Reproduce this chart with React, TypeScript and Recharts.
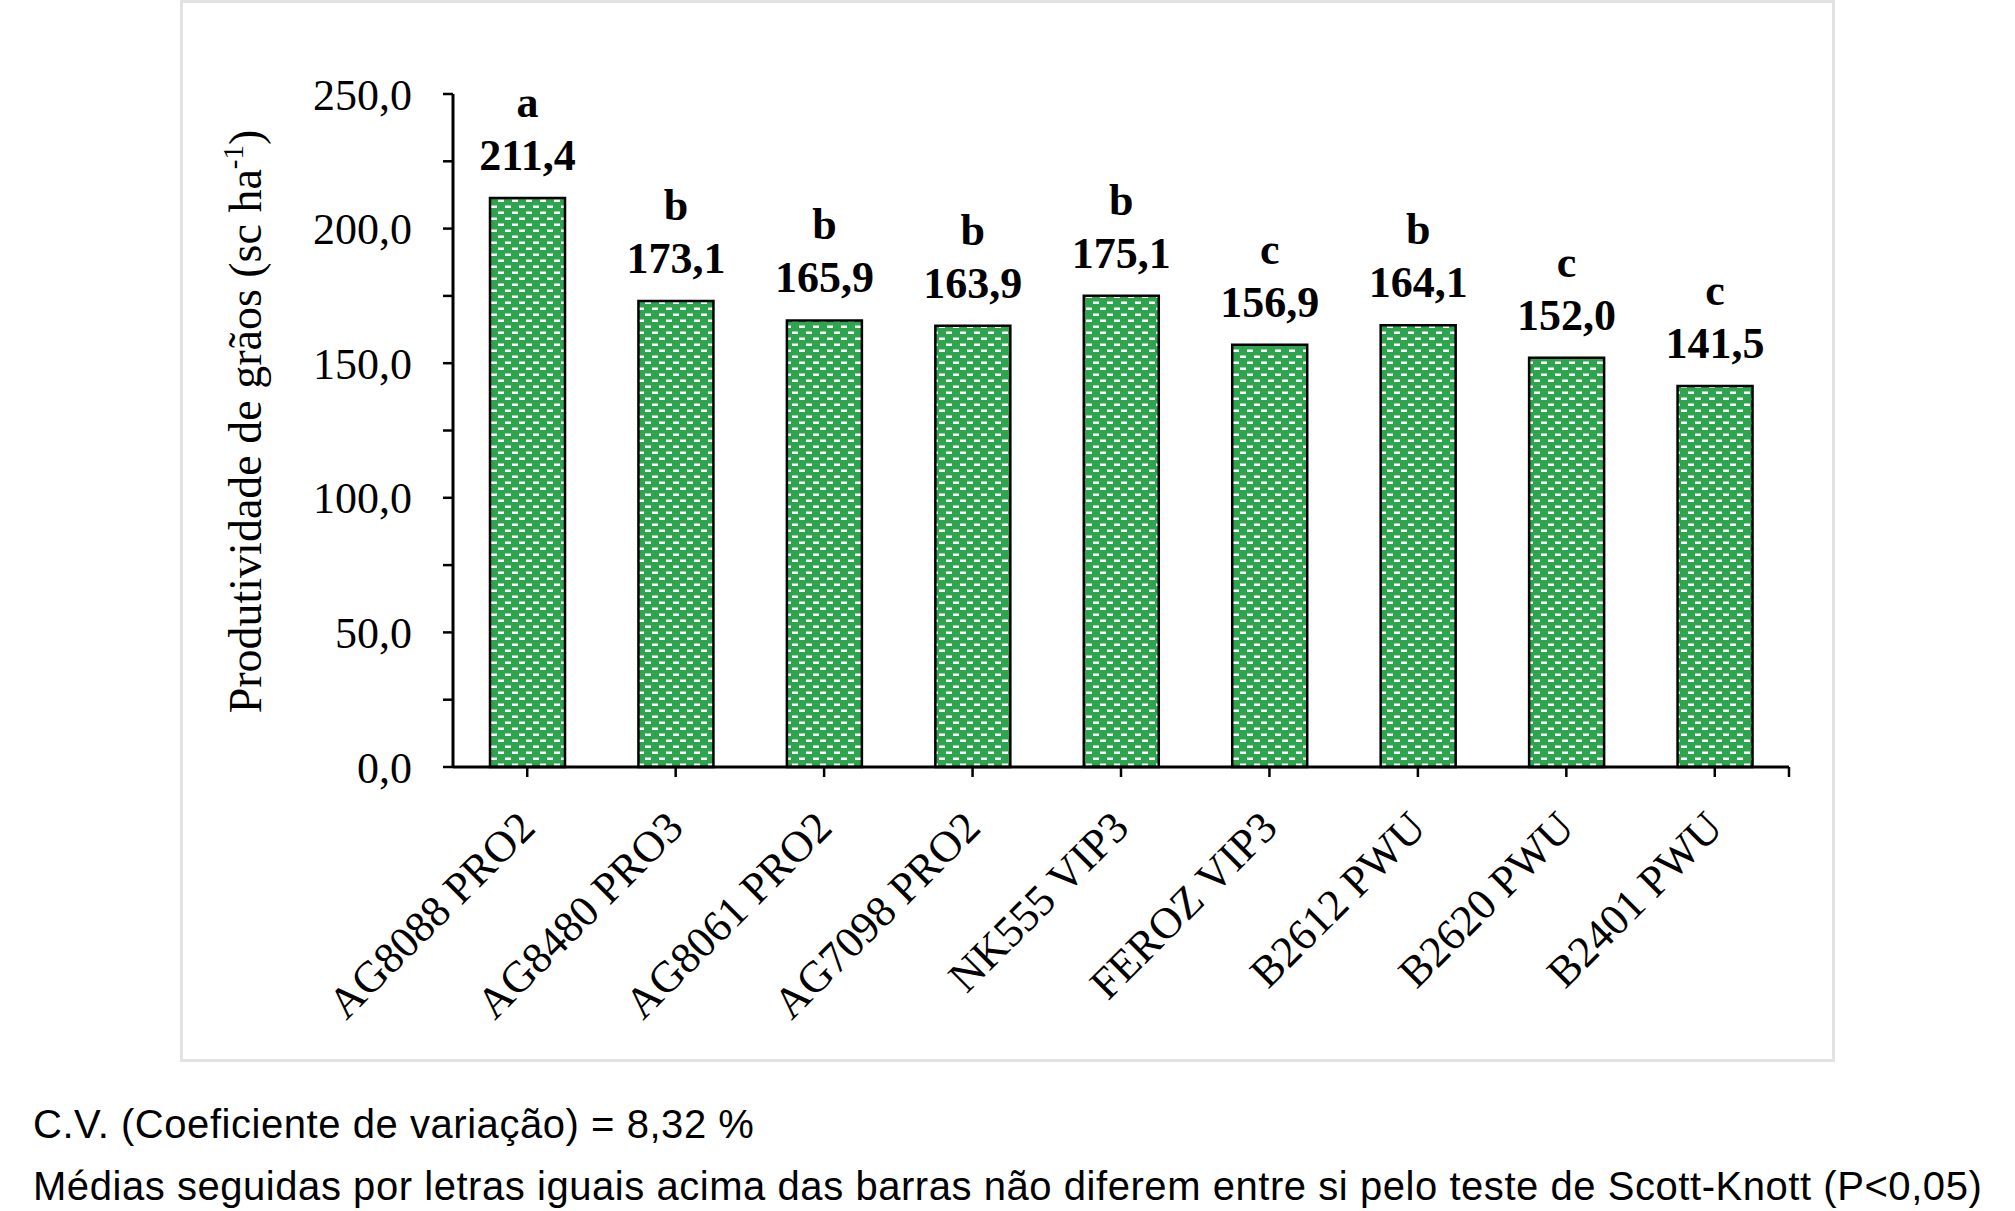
import { BarChart, Bar, XAxis, YAxis, LabelList } from "recharts";

const CATEGORIES = [
  "AG8088 PRO2",
  "AG8480 PRO3",
  "AG8061 PRO2",
  "AG7098 PRO2",
  "NK555 VIP3",
  "FEROZ VIP3",
  "B2612 PWU",
  "B2620 PWU",
  "B2401 PWU",
];
const YIELDS = [211.4, 173.1, 165.9, 163.9, 175.1, 156.9, 164.1, 152.0, 141.5];
const GROUPS = ["a", "b", "b", "b", "b", "c", "b", "c", "c"];
const Y_TICKS = [0, 25, 50, 75, 100, 125, 150, 175, 200, 225, 250];

const data = CATEGORIES.map((name, i) => ({ name, yield: YIELDS[i], group: GROUPS[i] }));

const SERIF = "'Liberation Serif', 'Times New Roman', serif";
const fmt = (v: number) => v.toFixed(1).replace(".", ",");

function ValueLabel(props: any) {
  const { x, y, width, index } = props;
  const cx = x + width / 2;
  return (
    <g>
      <text x={cx} y={y - 81} textAnchor="middle" fontFamily={SERIF} fontWeight="bold" fontSize={44} fill="#000">
        {GROUPS[index]}
      </text>
      <text x={cx} y={y - 28} textAnchor="middle" fontFamily={SERIF} fontWeight="bold" fontSize={44} fill="#000">
        {fmt(YIELDS[index])}
      </text>
    </g>
  );
}

function CategoryTick(props: any) {
  const { x, y, payload, index } = props;
  const last = index === CATEGORIES.length - 1;
  const off = payload?.offset ?? 0;
  return (
    <g>
      {last && (
        <line x1={x + off} x2={x + off} y1={y - 12} y2={y - 2} stroke="#000" strokeWidth={2.5} />
      )}
      <g transform={`translate(${x + 10},${y + 51}) rotate(-45)`}>
        <text textAnchor="end" fontFamily={SERIF} fontSize={44} fill="#000">
          {payload.value}
        </text>
      </g>
    </g>
  );
}

function YTitle(props: any) {
  const vb = props.viewBox || {};
  const cy = (vb.y ?? 94) + (vb.height ?? 673) / 2 - 9;
  return (
    <text transform={`translate(261,${cy}) rotate(-90)`} textAnchor="middle" fontFamily={SERIF} fontSize={46} fill="#000">
      Produtividade de grãos (sc ha
      <tspan dy={-18} fontSize={29}>-1</tspan>
      <tspan dy={18}>)</tspan>
    </text>
  );
}

export default function App() {
  return (
    <div style={{ position: "absolute", left: 0, top: 0, width: 2015, height: 1211, background: "#fff" }}>
      <div
        style={{
          position: "absolute",
          left: 180,
          top: 0,
          width: 1655,
          height: 1062,
          boxSizing: "border-box",
          border: "3px solid #e2e2e2",
        }}
      />
      <div style={{ position: "absolute", left: 0, top: 0 }}>
        <BarChart width={2015} height={1211} data={data} margin={{ top: 94, right: 226, bottom: 0, left: 0 }}>
          <defs>
            <pattern id="dashGreen" width={14} height={12} patternUnits="userSpaceOnUse">
              <rect width={14} height={12} fill="#2fa44f" />
              <rect x={1} y={1.5} width={6} height={2.5} fill="#fff" />
              <rect x={8} y={7.5} width={6} height={2.5} fill="#fff" />
            </pattern>
          </defs>
          <XAxis
            dataKey="name"
            interval={0}
            height={444}
            tickSize={10}
            tickMargin={2}
            axisLine={{ stroke: "#000", strokeWidth: 3 }}
            tickLine={{ stroke: "#000", strokeWidth: 2.5 }}
            tick={<CategoryTick />}
          />
          <YAxis
            width={453}
            domain={[0, 250]}
            ticks={Y_TICKS}
            interval={0}
            tickSize={10}
            tickMargin={31}
            axisLine={{ stroke: "#000", strokeWidth: 3 }}
            tickLine={{ stroke: "#000", strokeWidth: 2.5 }}
            tick={{ fill: "#000", fontFamily: SERIF, fontSize: 44 }}
            tickFormatter={(v: number) => (v % 50 === 0 ? fmt(v) : "")}
            label={{ content: <YTitle /> }}
          />
          <Bar
            dataKey="yield"
            fill="url(#dashGreen)"
            stroke="#000"
            strokeWidth={2.5}
            barSize={75}
            isAnimationActive={false}
          >
            <LabelList dataKey="yield" content={<ValueLabel />} />
          </Bar>
        </BarChart>
      </div>
      <div
        style={{
          position: "absolute",
          left: 33,
          top: 1093,
          fontFamily: "'Liberation Sans', Arial, sans-serif",
          fontSize: 40,
          letterSpacing: "0.55px",
          lineHeight: "62px",
          color: "#000",
          whiteSpace: "nowrap",
        }}
      >
        <div>C.V. (Coeficiente de variação) = 8,32 %</div>
        <div>Médias seguidas por letras iguais acima das barras não diferem entre si pelo teste de Scott-Knott (P&lt;0,05)</div>
      </div>
    </div>
  );
}
